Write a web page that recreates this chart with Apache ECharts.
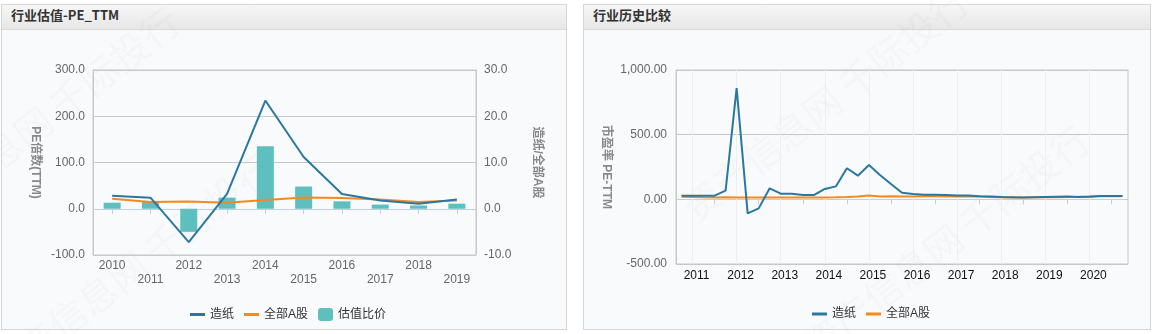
<!DOCTYPE html>
<html>
<head>
<meta charset="utf-8">
<script src="https://cdn.jsdelivr.net/npm/echarts@6/dist/echarts.min.js"></script>
<style>
  html, body { margin: 0; padding: 0; background: #ffffff; }
  body { width: 1154px; height: 334px; position: relative; overflow: hidden; }
  .panel {
    position: absolute; box-sizing: border-box;
    border: 1px solid #d6d6d6; background: #f8fafc;
  }
  .head {
    height: 25px; box-sizing: border-box; line-height: 24px;
    padding-left: 9px;
    background: linear-gradient(#f6f6f6, #e7e7e7);
    border-bottom: 1px solid #d9d9d9;
    font: bold 13px "Noto Sans CJK SC", "Liberation Sans", sans-serif;
    color: #333;
  }
  #chart { position: absolute; left: 0; top: 0; width: 1154px; height: 334px; }
</style>
</head>
<body>
<div class="panel" style="left:1px; top:4px; width:566px; height:326px;">
  <div class="head">行业估值-PE_TTM</div>
</div>
<div class="panel" style="left:583px; top:4px; width:568px; height:326px;">
  <div class="head">行业历史比较</div>
</div>
<div id="chart"></div>
<script>
// ---- Industry valuation (annual) ----
const years = ['2010', '2011', '2012', '2013', '2014', '2015', '2016', '2017', '2018', '2019'];
const paperPE = [28, 24, -72, 32, 234, 112, 32, 18, 11, 20];
const allSharesPE = [21.6, 14.4, 15.9, 13, 18.7, 24.5, 23, 20, 14.4, 18];
const valuationRatio = [1.3, 1.6, -5.0, 2.4, 13.5, 4.8, 1.6, 0.9, 0.7, 1.1];

// ---- Industry history (quarterly) ----
const quarters = [
  '2011Q1', '2011Q2', '2011Q3', '2011Q4',
  '2012Q1', '2012Q2', '2012Q3', '2012Q4',
  '2013Q1', '2013Q2', '2013Q3', '2013Q4',
  '2014Q1', '2014Q2', '2014Q3', '2014Q4',
  '2015Q1', '2015Q2', '2015Q3', '2015Q4',
  '2016Q1', '2016Q2', '2016Q3', '2016Q4',
  '2017Q1', '2017Q2', '2017Q3', '2017Q4',
  '2018Q1', '2018Q2', '2018Q3', '2018Q4',
  '2019Q1', '2019Q2', '2019Q3', '2019Q4',
  '2020Q1', '2020Q2', '2020Q3', '2020Q4',
  '2021Q1'
];
const paperHist = [
  28, 28, 28, 28,
  67, 860, -108, -70,
  85, 44, 44, 33,
  33, 80, 100, 240,
  183, 265, 188, 118,
  51, 41, 36, 36,
  33, 30, 30, 23,
  21, 18, 16, 14,
  16, 18, 20, 22,
  19, 20, 25, 25,
  25
];
const allSharesHist = [
  20, 18, 16, 15,
  16, 15, 14, 14,
  14, 14, 14, 14,
  14, 15, 16, 18,
  22, 30, 21, 24,
  22, 22, 23, 23,
  22, 22, 21, 21,
  19, 17, 15, 14,
  17, 18, 17, 19,
  20, 22, 24, 24,
  24
];

const leftTicks = [-100, 300, 100];
const rightTicks = [-10, 30, 10];
const histTicks = [-500, 1000, 500];

const FONT = '"Liberation Sans", "Noto Sans CJK SC", sans-serif';
const BLUE = '#2a78a2';
const ORANGE = '#f28a1e';
const TEAL = '#5fbfbf';
const GRID_LINE = '#c8c8c8';
const AXIS_BLUE = '#c0d0e0';
// Short flat bar used as the legend marker of a line series
const LINE_ICON = 'path://M0,0 L15,0 L15,3 L0,3 Z';

// Faint year guides on the history chart
const yearGuides = quarters.filter((q, i) => i % 4 === 1).map(q => ({ xAxis: q }));

function watermark(x, y) {
  return {
    type: 'text', x: x, y: y, rotation: 38 * Math.PI / 180, z: -10, silent: true,
    style: {
      text: '资产信息网 千际投行', fill: 'rgba(110,110,120,0.035)',
      font: '38px "Noto Sans CJK SC"', textAlign: 'left', textVerticalAlign: 'middle'
    }
  };
}

const legendText = { fontSize: 12, color: '#333', fontFamily: FONT };

const chart = echarts.init(document.getElementById('chart'), null, { renderer: 'canvas' });
chart.setOption({
  animation: false,
  backgroundColor: 'transparent',
  textStyle: { fontFamily: FONT },
  graphic: {
    elements: [
      watermark(-102, 232),
      watermark(-7, 377),
      watermark(687, 212),
      watermark(808, 350)
    ]
  },
  grid: [
    { left: 93, top: 70, right: 1154 - 476, bottom: 334 - 255, show: true,
      borderColor: GRID_LINE, borderWidth: 1, backgroundColor: 'transparent', outerBoundsMode: 'none' },
    { left: 676, top: 70, right: 1154 - 1128, bottom: 334 - 264, show: true,
      borderColor: GRID_LINE, borderWidth: 1, backgroundColor: 'transparent', outerBoundsMode: 'none' }
  ],
  legend: [
    {
      data: [
        { name: '造纸', icon: LINE_ICON },
        { name: '全部A股', icon: LINE_ICON },
        { name: '估值比价', icon: 'roundRect' }
      ],
      left: 185, top: 303, itemWidth: 15, itemHeight: 13, itemGap: 10, symbolKeepAspect: true,
      textStyle: legendText
    },
    {
      data: [
        { name: '造纸', icon: LINE_ICON },
        { name: '全部A股', icon: LINE_ICON }
      ],
      left: 807, top: 303, itemWidth: 15, itemHeight: 13, itemGap: 10, symbolKeepAspect: true,
      textStyle: legendText
    }
  ],
  xAxis: [
    {
      type: 'category', gridIndex: 0, data: years, boundaryGap: true,
      axisLine: { show: true, lineStyle: { color: AXIS_BLUE } },
      axisTick: { show: true, alignWithLabel: true, length: 5, lineStyle: { color: AXIS_BLUE } },
      axisLabel: {
        interval: 0, margin: 4, lineHeight: 14, fontSize: 12, color: '#666',
        formatter: (v, i) => (i % 2 ? '\n' + v : v)
      },
      splitLine: { show: false }
    },
    {
      type: 'category', gridIndex: 1, data: quarters, boundaryGap: true,
      axisLine: { show: true, lineStyle: { color: AXIS_BLUE } },
      axisTick: { show: true, alignWithLabel: true, length: 5, interval: (i) => i % 4 === 3,
        lineStyle: { color: AXIS_BLUE } },
      axisLabel: {
        interval: (i) => i % 4 === 1, margin: 5, lineHeight: 14, fontSize: 12, color: '#111',
        padding: [0, 0, 0, 8],
        formatter: (v) => v.slice(0, 4)
      },
      splitLine: { show: false }
    }
  ],
  yAxis: [
    {
      type: 'value', gridIndex: 0, position: 'left',
      min: leftTicks[0], max: leftTicks[1], interval: leftTicks[2],
      name: 'PE倍数(TTM)', nameLocation: 'middle', nameRotate: -90, nameGap: 52,
      nameTextStyle: { color: '#888', fontWeight: 'bold', fontSize: 12, fontFamily: FONT },
      axisLine: { show: true, lineStyle: { color: GRID_LINE } },
      axisTick: { show: false },
      axisLabel: { margin: 8, fontSize: 12, color: '#666', formatter: v => v.toFixed(1) },
      splitLine: { show: true, lineStyle: { color: GRID_LINE, width: 1 } }
    },
    {
      type: 'value', gridIndex: 0, position: 'right',
      min: rightTicks[0], max: rightTicks[1], interval: rightTicks[2],
      name: '造纸/全部A股', nameLocation: 'middle', nameRotate: -90, nameGap: 55,
      nameTextStyle: { color: '#888', fontWeight: 'bold', fontSize: 12, fontFamily: FONT },
      axisLine: { show: true, lineStyle: { color: GRID_LINE } },
      axisTick: { show: false },
      axisLabel: { margin: 8, fontSize: 12, color: '#666', formatter: v => v.toFixed(1) },
      splitLine: { show: false }
    },
    {
      type: 'value', gridIndex: 1, position: 'left',
      min: histTicks[0], max: histTicks[1], interval: histTicks[2],
      name: '市盈率 PE-TTM', nameLocation: 'middle', nameRotate: -90, nameGap: 64,
      nameTextStyle: { color: '#888', fontWeight: 'bold', fontSize: 12, fontFamily: FONT },
      axisLine: { show: true, lineStyle: { color: GRID_LINE } },
      axisTick: { show: false },
      axisLabel: {
        margin: 9, fontSize: 12, color: '#666',
        formatter: v => v.toLocaleString('en-US', { minimumFractionDigits: 2, maximumFractionDigits: 2 })
      },
      splitLine: { show: true, lineStyle: { color: GRID_LINE, width: 1 } }
    }
  ],
  series: [
    {
      name: '估值比价', type: 'bar', xAxisIndex: 0, yAxisIndex: 1,
      data: valuationRatio, barWidth: 17, itemStyle: { color: TEAL }, z: 1
    },
    {
      name: '造纸', type: 'line', xAxisIndex: 0, yAxisIndex: 0, data: paperPE,
      symbol: 'none', lineStyle: { color: BLUE, width: 2 }, itemStyle: { color: BLUE }, z: 4
    },
    {
      name: '全部A股', type: 'line', xAxisIndex: 0, yAxisIndex: 0, data: allSharesPE,
      symbol: 'none', lineStyle: { color: ORANGE, width: 2 }, itemStyle: { color: ORANGE }, z: 3
    },
    {
      name: '全部A股', type: 'line', xAxisIndex: 1, yAxisIndex: 2, data: allSharesHist,
      symbol: 'none', lineStyle: { color: ORANGE, width: 2 }, itemStyle: { color: ORANGE }, z: 3,
      markLine: {
        silent: true, symbol: 'none', z: 1, animation: false,
        label: { show: false },
        lineStyle: { color: '#eceff3', width: 1, type: 'solid' },
        emphasis: { disabled: true },
        data: yearGuides
      }
    },
    {
      name: '造纸', type: 'line', xAxisIndex: 1, yAxisIndex: 2, data: paperHist,
      symbol: 'none', lineStyle: { color: BLUE, width: 2 }, itemStyle: { color: BLUE }, z: 4
    }
  ]
});
</script>
</body>
</html>
